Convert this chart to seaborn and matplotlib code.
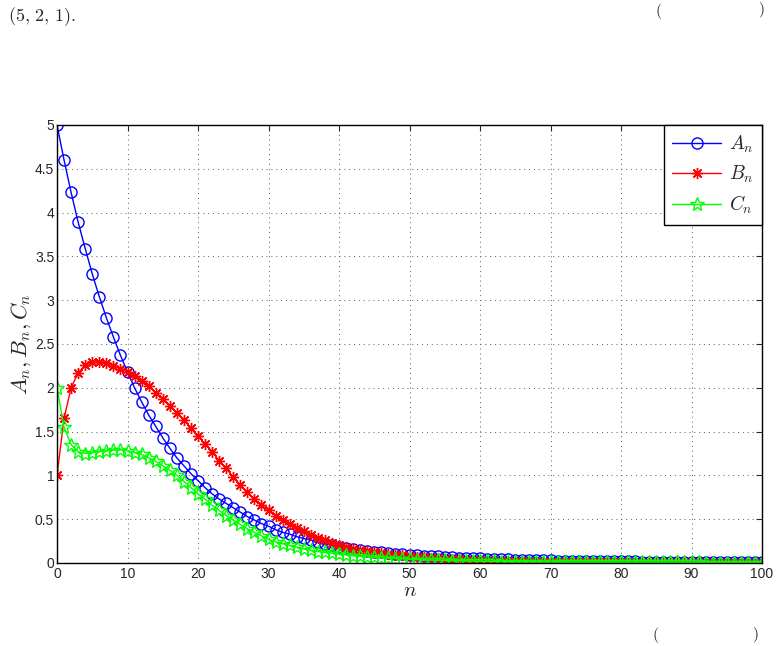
import numpy as np
import matplotlib
matplotlib.use('Agg')
import matplotlib.pyplot as plt
import seaborn as sns

# valores (n = 0..100)
n = list(range(101))

A = [5.00, 4.60, 4.23, 3.89, 3.59, 3.30, 3.04, 2.80, 2.58, 2.37, 2.18,
     2.00, 1.84, 1.69, 1.56, 1.43, 1.31, 1.20, 1.11, 1.02, 0.94,
     0.86, 0.79, 0.73, 0.68, 0.63, 0.58, 0.53, 0.49, 0.45, 0.42,
     0.38, 0.35, 0.33, 0.30, 0.28, 0.26, 0.24, 0.22, 0.20, 0.18,
     0.17, 0.16, 0.15, 0.14, 0.13, 0.12, 0.11, 0.105, 0.10, 0.095,
     0.09, 0.085, 0.08, 0.075, 0.07, 0.066, 0.062, 0.058, 0.055, 0.052,
     0.049, 0.046, 0.043, 0.041, 0.039, 0.037, 0.035, 0.033, 0.031, 0.029,
     0.028, 0.027, 0.026, 0.025, 0.024, 0.023, 0.022, 0.021, 0.020, 0.019,
     0.018, 0.018, 0.017, 0.017, 0.016, 0.016, 0.015, 0.015, 0.014, 0.014,
     0.013, 0.013, 0.013, 0.012, 0.012, 0.012, 0.011, 0.011, 0.011, 0.010]

B = [1.00, 1.65, 2.00, 2.17, 2.26, 2.29, 2.30, 2.28, 2.25, 2.22, 2.18,
     2.14, 2.08, 2.02, 1.94, 1.87, 1.79, 1.71, 1.63, 1.54, 1.45,
     1.36, 1.27, 1.17, 1.08, 0.98, 0.89, 0.81, 0.73, 0.66, 0.60,
     0.54, 0.49, 0.44, 0.40, 0.36, 0.32, 0.29, 0.26, 0.23, 0.20,
     0.18, 0.165, 0.15, 0.137, 0.125, 0.113, 0.103, 0.094, 0.086, 0.078,
     0.071, 0.065, 0.059, 0.054, 0.049, 0.045, 0.041, 0.037, 0.034, 0.031,
     0.028, 0.026, 0.024, 0.022, 0.020, 0.018, 0.017, 0.015, 0.014, 0.013,
     0.012, 0.011, 0.010, 0.009, 0.009, 0.008, 0.007, 0.007, 0.006, 0.006,
     0.005, 0.005, 0.005, 0.004, 0.004, 0.004, 0.003, 0.003, 0.003, 0.003,
     0.003, 0.002, 0.002, 0.002, 0.002, 0.002, 0.002, 0.001, 0.001, 0.001]

C = [2.00, 1.55, 1.35, 1.27, 1.25, 1.26, 1.27, 1.28, 1.29, 1.29, 1.28,
     1.26, 1.24, 1.20, 1.16, 1.11, 1.06, 1.00, 0.93, 0.86, 0.79,
     0.73, 0.66, 0.60, 0.54, 0.49, 0.44, 0.39, 0.35, 0.31, 0.27,
     0.24, 0.22, 0.20, 0.18, 0.16, 0.145, 0.13, 0.12, 0.11, 0.10,
     0.092, 0.084, 0.077, 0.070, 0.064, 0.059, 0.054, 0.050, 0.046, 0.042,
     0.039, 0.036, 0.033, 0.031, 0.029, 0.027, 0.025, 0.023, 0.022, 0.020,
     0.019, 0.018, 0.017, 0.016, 0.015, 0.014, 0.014, 0.013, 0.012, 0.012,
     0.011, 0.011, 0.010, 0.010, 0.010, 0.009, 0.009, 0.009, 0.008, 0.008,
     0.008, 0.008, 0.007, 0.007, 0.007, 0.007, 0.006, 0.006, 0.006, 0.006,
     0.006, 0.005, 0.005, 0.005, 0.005, 0.005, 0.005, 0.004, 0.004, 0.004]

x_ticks = list(range(0, 101, 10))
y_ticks = [0, 0.5, 1, 1.5, 2, 2.5, 3, 3.5, 4, 4.5, 5]

sns.set_style("white")
plt.rcParams['font.family'] = ['Liberation Sans', 'DejaVu Sans']
plt.rcParams['mathtext.fontset'] = 'cm'

fig = plt.figure(figsize=(7.78, 6.46), dpi=100)
ax = fig.add_axes([57 / 778, 1 - 563 / 646, 705 / 778, 438 / 646])

series = [
    (A, 'b', 'o', r'$A_n$', 8),
    (B, 'r', (8, 2, 0), r'$B_n$', 8),
    (C, '#00ff00', '*', r'$C_n$', 10),
]
for vals, col, mk, lab, ms in series:
    sns.lineplot(x=n, y=vals, ax=ax, color=col, marker=mk, markersize=ms,
                 markerfacecolor='none', markeredgecolor=col, markeredgewidth=1.0,
                 linewidth=1.0, label=lab)

ax.set_xlim(0, 100)
ax.set_ylim(0, 5)
ax.set_xticks(x_ticks)
ax.set_yticks(y_ticks)
ax.set_xticklabels([f"{v:g}" for v in x_ticks], fontsize=10)
ax.set_yticklabels([f"{v:g}" for v in y_ticks], fontsize=10)
ax.tick_params(direction='in', top=True, right=True, length=4, width=0.8, pad=3)
ax.tick_params(axis='y', pad=2)
ax.grid(True, linestyle=(0, (1, 4)), color='0.35', linewidth=0.7)
for s in ax.spines.values():
    s.set_color('black')
    s.set_linewidth(1.0)

ax.set_xlabel(r'$n$', fontsize=15, labelpad=0)
ax.set_ylabel(r'$A_n, B_n, C_n$', fontsize=16, labelpad=1)

leg = ax.legend(loc='upper right', borderaxespad=0, fancybox=False, framealpha=1,
                edgecolor='black', fontsize=14, handlelength=2.5, labelspacing=0.45,
                borderpad=0.45, handletextpad=0.4)
leg.get_frame().set_linewidth(1.0)

# fragmentos de la pagina alrededor de la figura
fig.text(8 / 778, 1 - 17 / 646, r'$(5,\, 2,\, 1).$', fontsize=13, va='center', ha='left')
fig.text(655 / 778, 1 - 1 / 646, r'$($', fontsize=11, va='top', ha='left')
fig.text(758 / 778, 1 - 1 / 646, r'$)$', fontsize=11, va='top', ha='left')
fig.text(652 / 778, 1 / 646, r'$($', fontsize=11, va='bottom', ha='left')
fig.text(752 / 778, 1 / 646, r'$)$', fontsize=11, va='bottom', ha='left')

plt.savefig("out.png", dpi=100)
plt.close()
